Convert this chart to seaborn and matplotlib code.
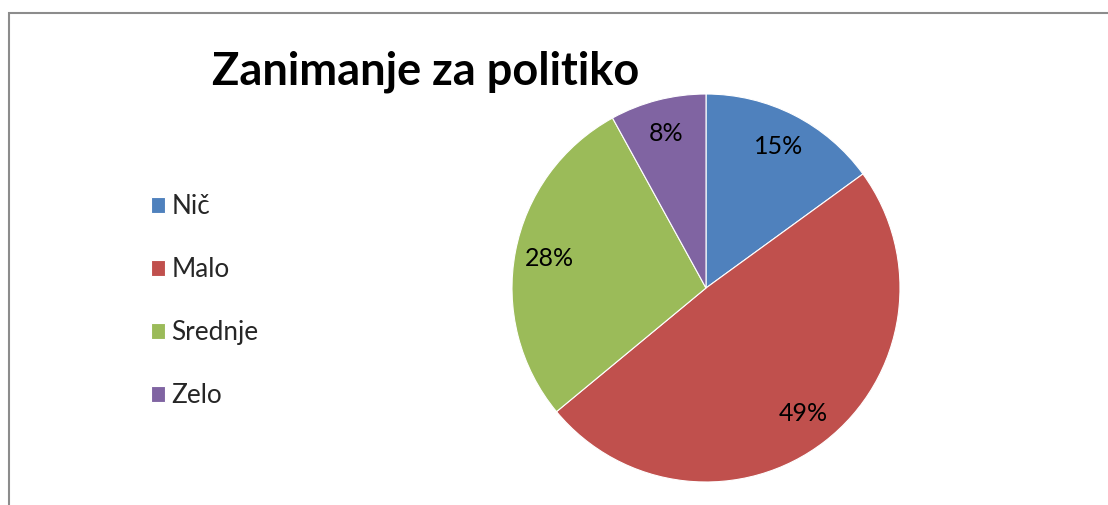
import matplotlib
matplotlib.use("Agg")
import matplotlib.pyplot as plt
import seaborn as sns
from matplotlib.patches import Rectangle

# data
categories = ["Nič", "Malo", "Srednje", "Zelo"]
shares = [15, 49, 28, 8]
colors = ["#4F81BD", "#C0504D", "#9BBB59", "#8064A2"]
title = "Zanimanje za politiko"

sns.set_theme(style="white")
plt.rcParams["font.family"] = ["Lato", "DejaVu Sans"]
palette = sns.color_palette(colors)

W, H = 1108, 505
fig = plt.figure(figsize=(W / 100, H / 100), dpi=100)
fig.patch.set_facecolor("white")

# chart area border (runs off the right and bottom edges)
fig.patches.append(Rectangle((8.5 / W, -0.2), 1.2, 1.2 - 13 / H,
                             transform=fig.transFigure, fill=False,
                             edgecolor="#8c8c8c", linewidth=1.5))

# pie: centre (706, 288) px, radius 194 px
cx, cy, r = 706, 288, 194
ax = fig.add_axes([(cx - r) / W, (H - cy - r) / H, 2 * r / W, 2 * r / H])
wedges, texts, autotexts = ax.pie(
    shares, colors=palette, startangle=90, counterclock=False,
    autopct="%d%%", pctdistance=0.82,
    wedgeprops=dict(linewidth=0.8, edgecolor="white"),
    textprops=dict(fontsize=18, color="black"),
)
ax.set_xlim(-1, 1)
ax.set_ylim(-1, 1)
ax.set_aspect("equal")
ax.axis("off")

fig.text(426 / W, 1 - 72 / H, title, ha="center", va="center",
         fontsize=32.5, fontweight="bold", color="black")

fig.legend(wedges, categories, loc="upper left",
           bbox_to_anchor=(127 / W, 1 - 171 / H), frameon=False,
           fontsize=18.8, labelspacing=1.45, handlelength=0.55,
           handleheight=0.55, handletextpad=0.25)

fig.savefig("out.png", dpi=100)
